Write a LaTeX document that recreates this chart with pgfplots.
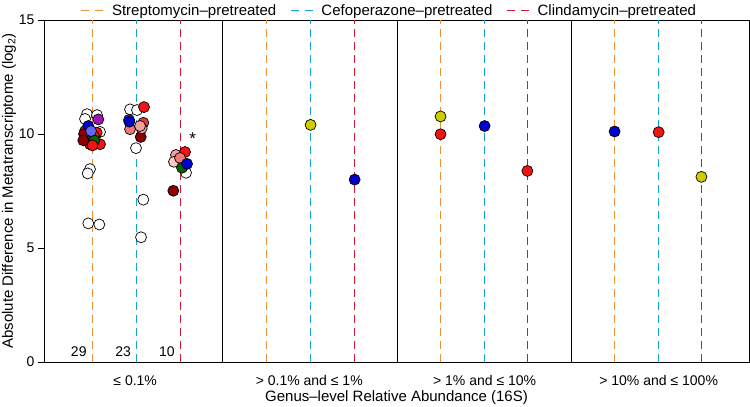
\documentclass[border=0pt]{standalone}
\usepackage{fontspec}
\setmainfont{Liberation Sans}
\usepackage{pgfplots}
\pgfplotsset{compat=1.18}
\definecolor{cOr}{RGB}{238,145,50}
\definecolor{cCy}{RGB}{20,165,200}
\definecolor{cRd}{RGB}{205,25,50}
\definecolor{pRed}{RGB}{240,20,20}
\definecolor{pMRed}{RGB}{225,60,60}
\definecolor{pDRed}{RGB}{140,0,0}
\definecolor{pSalmon}{RGB}{240,120,120}
\definecolor{pPink}{RGB}{245,160,160}
\definecolor{pLPink}{RGB}{255,200,200}
\definecolor{pBlue}{RGB}{0,0,205}
\definecolor{pBlue2}{RGB}{50,50,240}
\definecolor{pLBlue}{RGB}{100,100,255}
\definecolor{pGreen}{RGB}{0,100,0}
\definecolor{pPurple}{RGB}{160,20,180}
\definecolor{pYellow}{RGB}{205,205,0}
\begin{document}
\begin{tikzpicture}[font=\fontsize{14bp}{16bp}\selectfont]
\useasboundingbox (-44bp,-45bp) rectangle (706bp,362bp);
\begin{axis}[
  at={(0,0)}, anchor=south west,
  scale only axis, width=705bp, height=342bp,
  xmin=0, xmax=16, ymin=0, ymax=15,
  clip=false,
  ytick={0,5,10,15}, ytick pos=left, tick align=outside,
  major tick length=6bp,
  xtick={2.07,6.02,10,13.95},
  xticklabels={{≤ 0.1\%},{> 0.1\% and ≤ 1\%},{> 1\% and ≤ 10\%},{> 10\% and ≤ 100\%}},
  x tick style={draw=none},
  xticklabel style={yshift=-4bp},
  xlabel={Genus–level Relative Abundance (16S)},
  ylabel={Absolute Difference in Metatranscriptome (log\textsubscript{2})},
  label style={font=\fontsize{15bp}{17bp}\selectfont},
  xlabel style={yshift=2bp},
  ylabel style={yshift=-4bp},
  /pgf/number format/assume math mode=true,
  axis line style={line width=0.8bp},
  every tick/.style={black, line width=0.8bp},
  legend columns=3,
  legend style={at={(0.49,1)}, anchor=south, yshift=0bp, draw=none, fill=none,
    inner sep=1bp,
    /tikz/every odd column/.append style={column sep=6bp},
    /tikz/every even column/.append style={column sep=12bp},
    font=\fontsize{15bp}{17bp}\selectfont},
  legend image code/.code={\draw[#1, line width=1.2bp, dash pattern=on 8bp off 6bp] (0bp,0bp) -- (22bp,0bp);},
  dl/.style={line width=1.2bp, dash pattern=on 8bp off 5bp},
  pt/.style={only marks, mark=*, mark size=5.5bp, mark options={draw=black, line width=0.7bp, fill=#1}},
]
% dashed reference lines
\addplot[cOr, dl] coordinates {(1.1007,0) (1.1007,15)};
\addlegendentry{Streptomycin–pretreated}
\addplot[cCy, dl] coordinates {(2.0993,0) (2.0993,15)};
\addlegendentry{Cefoperazone–pretreated}
\addplot[cRd, dl] coordinates {(3.0979,0) (3.0979,15)};
\addlegendentry{Clindamycin–pretreated}
\addplot[cOr, dl, forget plot] coordinates {(5.0496,0) (5.0496,15)};
\addplot[cCy, dl, forget plot] coordinates {(6.0482,0) (6.0482,15)};
\addplot[cRd, dl, forget plot] coordinates {(7.0468,0) (7.0468,15)};
\addplot[cOr, dl, forget plot] coordinates {(8.9986,0) (8.9986,15)};
\addplot[cCy, dl, forget plot] coordinates {(9.9972,0) (9.9972,15)};
\addplot[cRd, dl, forget plot] coordinates {(10.9731,0) (10.9731,15)};
\addplot[cOr, dl, forget plot] coordinates {(12.9475,0) (12.9475,15)};
\addplot[cCy, dl, forget plot] coordinates {(13.9461,0) (13.9461,15)};
\addplot[cRd, dl, forget plot] coordinates {(14.9220,0) (14.9220,15)};
% panel separators
\addplot[black, line width=0.8bp, forget plot] coordinates {(4.06,0) (4.06,15)};
\addplot[black, line width=0.8bp, forget plot] coordinates {(8.01,0) (8.01,15)};
\addplot[black, line width=0.8bp, forget plot] coordinates {(11.96,0) (11.96,15)};
% ---- panel 1, streptomycin
\addplot[pt=white, forget plot] coordinates {(0.976,10.87) (1.203,10.83) (0.931,10.66) (1.271,10.09) (1.044,8.46) (0.992,8.27) (1.005,6.08) (1.255,6.03)};
\addplot[pt=pRed, forget plot] coordinates {(0.931,10.13) (1.196,10.06) (1.135,9.91) (1.271,9.55) (1.044,9.55) (1.083,9.62)};
\addplot[pt=pDRed, forget plot] coordinates {(0.908,10.00) (0.892,9.72)};
\addplot[pt=pGreen, forget plot] coordinates {(1.142,9.72)};
\addplot[pt=pRed, forget plot] coordinates {(1.10,9.50)};
\addplot[pt=pBlue, forget plot] coordinates {(1.005,10.35)};
\addplot[pt=pLBlue, forget plot] coordinates {(1.067,10.13)};
\addplot[pt=pPurple, forget plot] coordinates {(1.232,10.64)};
% ---- panel 1, cefoperazone
\addplot[pt=white, forget plot] coordinates {(1.952,11.08) (2.111,11.05) (2.088,9.38) (2.254,7.12) (2.202,5.47)};
\addplot[pt=pRed, forget plot] coordinates {(2.270,11.18)};
\addplot[pt=pDRed, forget plot] coordinates {(2.195,9.87)};
\addplot[pt=pMRed, forget plot] coordinates {(2.254,10.49)};
\addplot[pt=pSalmon, forget plot] coordinates {(1.952,10.21)};
\addplot[pt=pPink, forget plot] coordinates {(2.217,10.25) (2.179,10.35)};
\addplot[pt=pBlue2, forget plot] coordinates {(1.93,10.62)};
\addplot[pt=pBlue, forget plot] coordinates {(1.936,10.54)};
% ---- panel 1, clindamycin
\addplot[pt=white, forget plot] coordinates {(3.223,8.30)};
\addplot[pt=pDRed, forget plot] coordinates {(2.935,7.51)};
\addplot[pt=pPink, forget plot] coordinates {(2.996,9.08)};
\addplot[pt=pRed, forget plot] coordinates {(3.200,9.21)};
\addplot[pt=pLPink, forget plot] coordinates {(2.950,8.78)};
\addplot[pt=pSalmon, forget plot] coordinates {(3.087,8.95)};
\addplot[pt=pGreen, forget plot] coordinates {(3.132,8.52)};
\addplot[pt=pBlue, forget plot] coordinates {(3.246,8.69)};
% ---- panels 2-4
\addplot[pt=pYellow, forget plot] coordinates {(6.05,10.40) (9.00,10.77) (14.92,8.12)};
\addplot[pt=pBlue, forget plot] coordinates {(7.05,8.00) (10.00,10.35) (12.95,10.11)};
\addplot[pt=pRed, forget plot] coordinates {(9.00,9.99) (10.97,8.38) (13.95,10.08)};
% annotations
\node[anchor=east, inner sep=0pt] at (axis cs:0.97,0.44) {29};
\node[anchor=east, inner sep=0pt] at (axis cs:1.975,0.44) {23};
\node[anchor=east, inner sep=0pt] at (axis cs:2.97,0.44) {10};
\node[inner sep=0pt] at (axis cs:3.375,9.80) {\fontsize{17bp}{17bp}\selectfont *};
\end{axis}
\end{tikzpicture}
\end{document}
